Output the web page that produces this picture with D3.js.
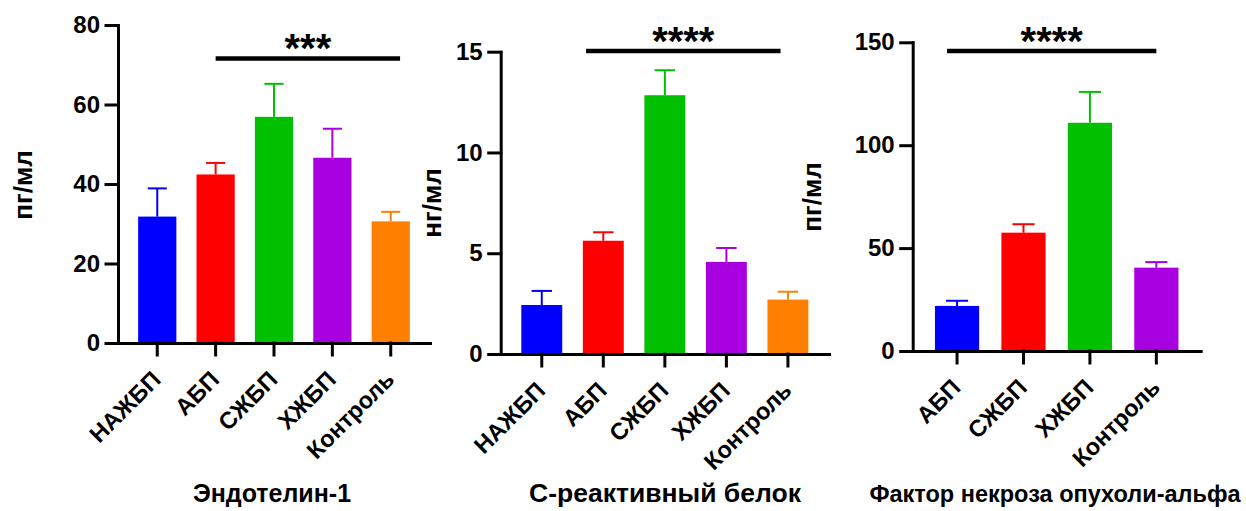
<!DOCTYPE html>
<html>
<head>
<meta charset="utf-8">
<script src="https://cdn.jsdelivr.net/npm/d3@7"></script>
<style>
  body { margin: 0; background: #fff; }
  svg { display: block; font-family: "Liberation Sans", Arial, sans-serif; font-weight: bold; }
</style>
</head>
<body>
<svg width="1246" height="511"></svg>
<script>
// Эндотелин-1
const groups1 = ["НАЖБП", "АБП", "СЖБП", "ХЖБП", "Контроль"];
const means1 = [31.8, 42.4, 56.9, 46.6, 30.6];
const sem1 = [7.1, 2.9, 8.3, 7.3, 2.4];
const ticks1 = [0, 20, 40, 60, 80];

// С-реактивный белок
const groups2 = ["НАЖБП", "АБП", "СЖБП", "ХЖБП", "Контроль"];
const means2 = [2.43, 5.62, 12.84, 4.57, 2.70];
const sem2 = [0.70, 0.42, 1.24, 0.69, 0.39];
const ticks2 = [0, 5, 10, 15];

// Фактор некроза опухоли-альфа
const groups3 = ["АБП", "СЖБП", "ХЖБП", "Контроль"];
const means3 = [21.9, 57.5, 110.9, 40.5];
const sem3 = [2.5, 4.1, 15.0, 2.7];
const ticks3 = [0, 50, 100, 150];

const colors5 = ["#0000ff", "#ff0000", "#00c000", "#a800e0", "#ff8000"];
const colors4 = ["#0000ff", "#ff0000", "#00c000", "#a800e0"];

const svg = d3.select("svg");

function drawPanel(p) {
  const g = svg.append("g");

  const x = d3.scaleBand()
    .domain(p.groups)
    .range([p.left, p.right])
    .paddingInner(p.pad)
    .paddingOuter(p.pad);

  const y = d3.scaleLinear()
    .domain([0, p.max])
    .range([p.bottom, p.top]);

  // index position -> pixel, for the significance bar
  const xi = d3.scaleLinear()
    .domain([0, p.groups.length - 1])
    .range([x(p.groups[0]) + x.bandwidth() / 2, x(p.groups[p.groups.length - 1]) + x.bandwidth() / 2]);

  // bars
  g.selectAll(".bar")
    .data(p.means)
    .enter()
    .append("rect")
      .attr("x", (d, i) => x(p.groups[i]))
      .attr("y", d => y(d))
      .attr("width", x.bandwidth())
      .attr("height", d => y(0) - y(d))
      .attr("fill", (d, i) => p.colors[i]);

  // error bars (upper only)
  const err = g.selectAll(".err")
    .data(p.means)
    .enter()
    .append("g")
      .attr("stroke", (d, i) => p.colors[i])
      .attr("stroke-width", 2);

  err.append("line")
    .attr("x1", (d, i) => x(p.groups[i]) + x.bandwidth() / 2)
    .attr("x2", (d, i) => x(p.groups[i]) + x.bandwidth() / 2)
    .attr("y1", d => y(d))
    .attr("y2", (d, i) => y(d + p.sem[i]));

  err.append("line")
    .attr("x1", (d, i) => x(p.groups[i]) + x.bandwidth() / 4)
    .attr("x2", (d, i) => x(p.groups[i]) + x.bandwidth() * 3 / 4)
    .attr("y1", (d, i) => y(d + p.sem[i]))
    .attr("y2", (d, i) => y(d + p.sem[i]));

  // axes
  const yAxis = d3.axisLeft(y)
    .tickValues(p.ticks)
    .tickSize(12)
    .tickSizeOuter(0)
    .tickPadding(6);

  const xAxis = d3.axisBottom(x)
    .tickSize(12)
    .tickSizeOuter(0);

  const gy = g.append("g")
    .attr("transform", `translate(${p.left}, 0)`)
    .call(yAxis);
  gy.selectAll("text")
    .style("font-size", "24px")
    .style("font-family", "inherit")
    .attr("fill", "#000");

  const gx = g.append("g")
    .attr("transform", `translate(0, ${p.bottom})`)
    .call(xAxis);
  gx.selectAll("text")
    .style("font-size", "23.5px")
    .style("font-family", "inherit")
    .attr("fill", "#000")
    .attr("text-anchor", "end")
    .attr("dy", null)
    .attr("y", null)
    .attr("transform", "translate(5, 38) rotate(-45)");

  g.selectAll(".domain, .tick line")
    .attr("stroke", "#000")
    .attr("stroke-width", 3)
    .attr("stroke-linecap", "square");

  // significance bar
  g.append("line")
    .attr("x1", xi(p.sig.from))
    .attr("x2", xi(p.sig.to))
    .attr("y1", y(p.sig.y))
    .attr("y2", y(p.sig.y))
    .attr("stroke", "#000")
    .attr("stroke-width", 4.5);

  g.append("text")
    .attr("x", (xi(p.sig.from) + xi(p.sig.to)) / 2)
    .attr("y", y(p.sig.y) + 4)
    .style("text-anchor", "middle")
    .style("font-size", "40px")
    .text(p.sig.label);

  // y axis label
  g.append("text")
    .attr("transform", `translate(${p.labelX}, ${p.labelY}) rotate(-90)`)
    .attr("dy", "0.35em")
    .style("text-anchor", "middle")
    .style("font-size", "26px")
    .text(p.unit);

  // title
  g.append("text")
    .attr("x", p.titleX)
    .attr("y", 502)
    .style("text-anchor", "middle")
    .style("font-size", p.titleSize + "px")
    .text(p.title);
}

drawPanel({
  groups: groups1, means: means1, sem: sem1, ticks: ticks1, colors: colors5,
  max: 80, left: 118, right: 430, top: 25, bottom: 343, pad: 0.345,
  sig: { from: 1.0, to: 4.16, y: 71.6, label: "***" },
  unit: "пг/мл", labelX: 23, labelY: 185,
  title: "Эндотелин-1", titleX: 272, titleSize: 25
});

drawPanel({
  groups: groups2, means: means2, sem: sem2, ticks: ticks2, colors: colors5,
  max: 15, left: 500.7, right: 829, top: 51.7, bottom: 354, pad: 0.335,
  sig: { from: 0.72, to: 3.88, y: 15.04, label: "****" },
  unit: "нг/мл", labelX: 432, labelY: 203,
  title: "С-реактивный белок", titleX: 665, titleSize: 26.5
});

drawPanel({
  groups: groups3, means: means3, sem: sem3, ticks: ticks3, colors: colors4,
  max: 150, left: 912.7, right: 1200.7, top: 42.3, bottom: 351, pad: 0.335,
  sig: { from: -0.15, to: 3.0, y: 145.8, label: "****" },
  unit: "пг/мл", labelX: 812, labelY: 197,
  title: "Фактор некроза опухоли-альфа", titleX: 1055, titleSize: 23.5
});
</script>
</body>
</html>
